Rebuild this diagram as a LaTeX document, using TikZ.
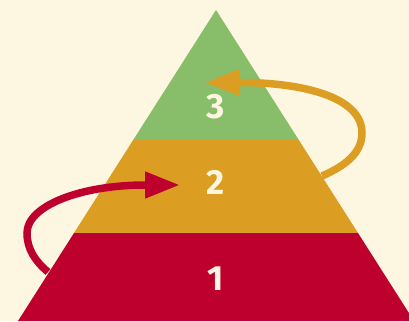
\documentclass[tikz,border=0pt]{standalone}
\usepackage{fontspec}
\setmainfont{Fira Sans}
\usetikzlibrary{arrows.meta}
\definecolor{bgcream}{HTML}{FDF6E1}
\definecolor{lvgreen}{HTML}{88BE69}
\definecolor{lvorange}{HTML}{DC9D23}
\definecolor{lvred}{HTML}{BE002F}
\definecolor{numcream}{HTML}{FEF6E0}
\tikzset{
  numlabel/.style={text=numcream, font=\fontsize{35}{35}\selectfont\bfseries, inner sep=0pt},
  looparrow/.style={line width=7.5pt, -{Triangle[length=35pt,width=25pt]}},
}
\begin{document}
\begin{tikzpicture}[x=1pt,y=1pt]
\useasboundingbox (0,0) rectangle (409,321);
\fill[bgcream] (0,0) rectangle (409,321);
\clip (0,0) rectangle (409,321);
% pyramid corners and band boundaries
\coordinate (apex) at (216,311);
\coordinate (bl) at (18,0);
\coordinate (br) at (414,0);
\coordinate (l2) at (133.2,181);
\coordinate (r2) at (298.8,181);
\coordinate (l1) at (74,88);
\coordinate (r1) at (358,88);
\fill[lvred] (bl) -- (br) -- (r1) -- (l1) -- cycle;
\fill[lvorange] (l1) -- (r1) -- (r2) -- (l2) -- cycle;
\fill[lvgreen] (l2) -- (r2) -- (apex) -- cycle;
% labels
\node[numlabel] (n3) at (216,214) {3};
\node[numlabel] (n2) at (216,139) {2};
\node[numlabel] (n1) at (216,42.5) {1};
% orange arrow: 2 -> 3
\coordinate (oa) at (322,145);
\coordinate (ob) at (362,188);
\coordinate (oc) at (240,238.5);
\coordinate (od) at (205,238.5);
\draw[lvorange, looparrow] (oa) .. controls (345,155) and (362,168) .. (ob)
  .. controls (362,225) and (300,238.5) .. (oc) -- (od);
% red arrow: 1 -> 2
\coordinate (ra) at (48,49);
\coordinate (rb) at (27,88);
\coordinate (rc) at (146,136);
\coordinate (rd) at (180,136);
\draw[lvred, looparrow] (ra) .. controls (35,60) and (27,72) .. (rb)
  .. controls (27,115) and (80,136) .. (rc) -- (rd);
\end{tikzpicture}
\end{document}
